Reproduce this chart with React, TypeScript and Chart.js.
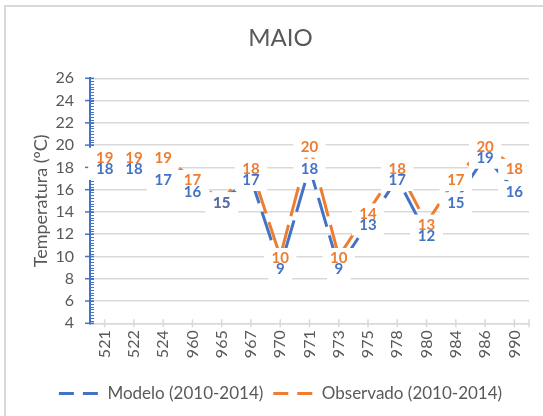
import React, { useEffect, useRef } from 'react';
import { Chart, registerables } from 'chart.js';

Chart.register(...registerables);

const chartTitle = 'MAIO';
const yAxisTitle = 'Temperatura (ºC)';
const categories = ['521', '522', '524', '960', '965', '967', '970', '971', '973', '975', '978', '980', '984', '986', '990'];
const modelo = [18, 18, 17, 16, 15, 17, 9, 18, 9, 13, 17, 12, 15, 19, 16];
const observado = [19, 19, 19, 17, 15, 18, 10, 20, 10, 14, 18, 13, 17, 20, 18];
const seriesNames = ['Modelo (2010-2014)', 'Observado (2010-2014)'];
const seriesColors = ['#4472C4', '#ED7D31'];
const yMin = 4;
const yMax = 26;
const yStep = 2;
const yMinorStep = 0.25;

const FONT = 'Lato, "Open Sans", "Noto Sans", sans-serif';
const GRAY_TEXT = '#595959';
const GRID = '#d9d9d9';

const framePlugin = {
  id: 'frame',
  beforeDraw(chart: any) {
    const ctx = chart.ctx;
    ctx.save();
    ctx.fillStyle = '#ffffff';
    ctx.fillRect(0, 0, chart.width, chart.height);
    ctx.strokeStyle = GRID;
    ctx.lineWidth = 2;
    ctx.beginPath();
    ctx.moveTo(5, chart.height);
    ctx.lineTo(5, 6);
    ctx.lineTo(chart.width, 6);
    ctx.stroke();
    ctx.restore();
  },
};

const axisDecorPlugin = {
  id: 'axisDecor',
  beforeDatasetsDraw(chart: any) {
    const ctx = chart.ctx;
    const area = chart.chartArea;
    const y = chart.scales.y;
    const x = chart.scales.x;
    ctx.save();
    ctx.strokeStyle = '#4472C4';
    ctx.lineWidth = 1;
    for (let v = yMin; v <= yMax + 1e-9; v += yMinorStep) {
      const py = Math.round(y.getPixelForValue(v)) + 0.5;
      ctx.beginPath();
      ctx.moveTo(area.left, py);
      ctx.lineTo(area.left + 4, py);
      ctx.stroke();
    }
    ctx.lineWidth = 1.5;
    for (let v = yMin; v <= yMax + 1e-9; v += yStep) {
      const py = y.getPixelForValue(v);
      ctx.beginPath();
      ctx.moveTo(area.left - 5, py);
      ctx.lineTo(area.left + 4, py);
      ctx.stroke();
    }
    ctx.strokeStyle = GRID;
    ctx.lineWidth = 1.5;
    const xs: number[] = categories.map((_, i) => x.getPixelForValue(i));
    xs.push(area.right);
    xs.forEach((px) => {
      ctx.beginPath();
      ctx.moveTo(px, area.bottom - 4);
      ctx.lineTo(px, area.bottom + 4);
      ctx.stroke();
    });
    ctx.restore();
  },
};

const labelPlugin = {
  id: 'excelLabels',
  afterDatasetsDraw(chart: any) {
    const ctx = chart.ctx;
    ctx.save();
    ctx.font = `bold 15px ${FONT}`;
    ctx.textAlign = 'center';
    ctx.textBaseline = 'middle';
    const items: { x: number; y: number; text: string; color: string; ds: number }[] = [];
    chart.data.datasets.forEach((ds: any, di: number) => {
      const meta = chart.getDatasetMeta(di);
      meta.data.forEach((pt: any, i: number) => {
        items.push({ x: pt.x, y: pt.y, text: String(ds.data[i]), color: ds.borderColor, ds: di });
      });
    });
    ctx.fillStyle = '#ffffff';
    items.forEach((it) => {
      const w = ctx.measureText(it.text).width + 15;
      const h = 21;
      ctx.fillRect(it.x - w / 2, it.y - h / 2 + 2, w, h);
    });
    [1, 0].forEach((di) => {
      items
        .filter((it) => it.ds === di)
        .forEach((it) => {
          ctx.fillStyle = it.color;
          ctx.fillText(it.text, it.x, it.y + 2);
        });
    });
    ctx.restore();
  },
};

export default function App() {
  const canvasRef = useRef<HTMLCanvasElement | null>(null);

  useEffect(() => {
    if (!canvasRef.current) return;
    const chart = new Chart(canvasRef.current, {
      type: 'line',
      data: {
        labels: categories,
        datasets: [
          {
            label: seriesNames[0],
            data: modelo,
            borderColor: seriesColors[0],
            backgroundColor: seriesColors[0],
            borderWidth: 3,
            borderDash: [30, 9],
            borderCapStyle: 'butt',
            pointRadius: 0,
            tension: 0,
          },
          {
            label: seriesNames[1],
            data: observado,
            borderColor: seriesColors[1],
            backgroundColor: seriesColors[1],
            borderWidth: 3,
            borderDash: [30, 9],
            borderCapStyle: 'butt',
            pointRadius: 0,
            tension: 0,
          },
        ],
      },
      options: {
        responsive: false,
        animation: false,
        events: [],
        layout: { padding: { left: 18, right: 0, top: 0, bottom: 4 } },
        scales: {
          x: {
            type: 'category',
            offset: true,
            grid: { display: false, drawTicks: false },
            border: { display: true, color: GRID, width: 1.5 },
            ticks: {
              autoSkip: false,
              minRotation: 90,
              maxRotation: 90,
              padding: 7,
              color: GRAY_TEXT,
              font: { family: FONT, size: 16 },
            },
            afterFit: (scale: any) => {
              scale.height = 51.7;
            },
          },
          y: {
            min: yMin,
            max: yMax,
            grid: { color: GRID, lineWidth: 1.5, drawTicks: false },
            border: { display: true, color: '#4472C4', width: 2 },
            ticks: {
              stepSize: yStep,
              padding: 16,
              color: GRAY_TEXT,
              font: { family: FONT, size: 16 },
            },
            title: {
              display: true,
              text: yAxisTitle,
              color: GRAY_TEXT,
              font: { family: FONT, size: 18 },
              padding: { top: 12.2, bottom: 0 },
            },
            afterFit: (scale: any) => {
              scale.width = 72;
            },
          },
          y2: {
            position: 'right',
            display: true,
            min: yMin,
            max: yMax,
            grid: { display: false, drawTicks: false },
            border: { display: false },
            ticks: { display: false },
            afterFit: (scale: any) => {
              scale.width = 14;
            },
          },
        },
        plugins: {
          title: {
            display: true,
            text: chartTitle,
            color: GRAY_TEXT,
            font: { family: FONT, size: 24, weight: 'normal' },
            padding: { top: 23.6, bottom: 25.9 },
          },
          legend: {
            display: true,
            position: 'bottom',
            labels: {
              usePointStyle: true,
              pointStyle: 'line',
              pointStyleWidth: 40,
              padding: 10,
              color: GRAY_TEXT,
              font: { family: FONT, size: 17 },
              generateLabels: (ch: any) =>
                ch.data.datasets.map((ds: any, i: number) => ({
                  text: ds.label,
                  fillStyle: ds.borderColor,
                  strokeStyle: ds.borderColor,
                  lineWidth: 3,
                  lineDash: [15, 9],
                  lineCap: 'butt',
                  pointStyle: 'line',
                  fontColor: GRAY_TEXT,
                  hidden: false,
                  datasetIndex: i,
                })),
            },
          },
          tooltip: { enabled: false },
        },
      },
      plugins: [framePlugin, axisDecorPlugin, labelPlugin],
    } as any);
    return () => chart.destroy();
  }, []);

  return (
    <div style={{ position: 'absolute', left: 0, top: 0, width: 543, height: 416 }}>
      <canvas ref={canvasRef} width={543} height={416} style={{ display: 'block' }} />
    </div>
  );
}
